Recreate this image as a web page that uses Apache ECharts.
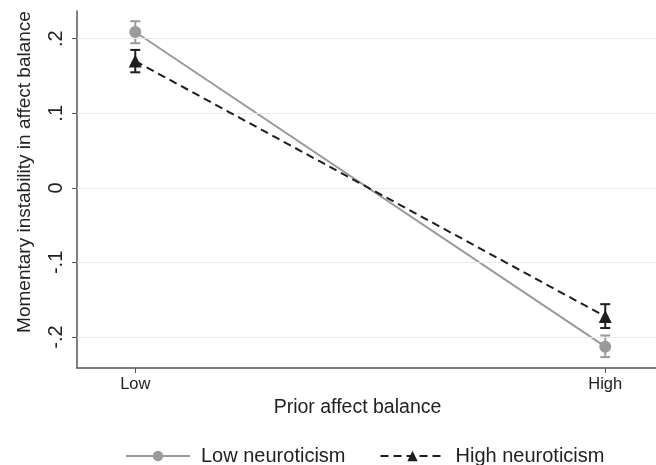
<!DOCTYPE html>
<html>
<head>
<meta charset="utf-8">
<script src="https://cdn.jsdelivr.net/npm/echarts@6/dist/echarts.min.js"></script>
<style>
  html, body { margin: 0; padding: 0; background: #fff; }
  #chart { width: 656px; height: 465px; }
</style>
</head>
<body>
<div id="chart"></div>
<script>
// levels of prior affect balance, placed at 0 and 1 on the x scale
var levels = ['Low', 'High']
var levelPos = [0, 1]
var yTicks = [-0.2, -0.1, 0, 0.1, 0.2]

// low neuroticism: estimate and 95% CI
var lowNeuro = [0.209, -0.213]
var lowNeuroLo = [0.194, -0.227]
var lowNeuroHi = [0.2235, -0.198]

// high neuroticism
var highNeuro = [0.170, -0.1725]
var highNeuroLo = [0.155, -0.188]
var highNeuroHi = [0.185, -0.156]

const FONT = 'Liberation Sans, Arial, sans-serif'
const GRAY = '#9a9a9a'
const BLACK = '#1e1e1e'

function pairs(ys) {
  var out = []
  for (var i in ys) {
    out.push([levelPos[i], ys[i]])
  }
  return out
}

function ciData(lo, hi) {
  var out = []
  for (var i in lo) {
    out.push([levelPos[i], lo[i], hi[i]])
  }
  return out
}

function errorBars(color) {
  return function (params, api) {
    var top = api.coord([api.value(0), api.value(2)])
    var bot = api.coord([api.value(0), api.value(1)])
    var cap = 5
    var style = { stroke: color, lineWidth: 2 }
    return {
      type: 'group',
      children: [
        { type: 'line', shape: { x1: top[0], y1: top[1], x2: bot[0], y2: bot[1] }, style: style },
        { type: 'line', shape: { x1: top[0] - cap, y1: top[1], x2: top[0] + cap, y2: top[1] }, style: style },
        { type: 'line', shape: { x1: bot[0] - cap, y1: bot[1], x2: bot[0] + cap, y2: bot[1] }, style: style }
      ]
    }
  }
}

function fmtY(v) {
  var r = Math.round(v * 10) / 10
  if (r === 0) return '0'
  var s = String(Math.abs(r)).replace(/^0/, '')
  return (r < 0 ? '-' : '') + s
}

var chart = echarts.init(document.getElementById('chart'))
var option = {
  animation: false,
  textStyle: { fontFamily: FONT },
  grid: { left: 77, right: 0, top: 11, bottom: 97 },
  legend: {
    data: ['Low neuroticism', 'High neuroticism'],
    left: 120,
    top: 441,
    itemWidth: 64,
    itemHeight: 13,
    itemGap: 34,
    textStyle: { fontSize: 20, color: '#222', fontFamily: FONT, padding: [0, 0, 0, 6] }
  },
  xAxis: {
    type: 'value',
    min: -0.124,
    max: 1.108,
    axisLine: { onZero: false, lineStyle: { color: '#555', width: 1.5 } },
    axisTick: { show: true, length: 5, lineStyle: { color: '#555' }, customValues: levelPos },
    axisLabel: {
      customValues: levelPos,
      fontSize: 16.5,
      color: '#222',
      margin: 8,
      formatter: function (v) { return levels[levelPos.indexOf(v)] }
    },
    splitLine: { show: false },
    name: 'Prior affect balance',
    nameLocation: 'middle',
    nameGap: 30,
    nameTextStyle: { fontSize: 19.5, color: '#222', padding: [0, 18, 0, 0] }
  },
  yAxis: {
    type: 'value',
    min: -0.2416,
    max: 0.2372,
    axisLine: { show: true, onZero: false, lineStyle: { color: '#555', width: 1.5 } },
    axisTick: { show: true, length: 5, lineStyle: { color: '#555' }, customValues: yTicks },
    axisLabel: {
      customValues: yTicks,
      rotate: 90,
      fontSize: 20,
      color: '#222',
      margin: 11,
      formatter: fmtY
    },
    splitLine: { show: false }
  },
  graphic: [{
    type: 'text',
    x: 25,
    y: 172,
    rotation: Math.PI / 2,
    style: {
      text: 'Momentary instability in affect balance',
      font: '19px ' + FONT,
      fill: '#222',
      textAlign: 'center',
      textVerticalAlign: 'middle'
    }
  }],
  series: [
    {
      // horizontal grid lines at the y ticks
      type: 'line',
      data: [],
      silent: true,
      markLine: {
        silent: true,
        symbol: 'none',
        label: { show: false },
        lineStyle: { color: '#eaeaea', width: 1.2, type: 'solid' },
        data: yTicks.map(function (t) { return { yAxis: t } })
      }
    },
    {
      type: 'custom',
      renderItem: errorBars(GRAY),
      data: ciData(lowNeuroLo, lowNeuroHi),
      z: 3
    },
    {
      type: 'custom',
      renderItem: errorBars(BLACK),
      data: ciData(highNeuroLo, highNeuroHi),
      z: 3
    },
    {
      name: 'Low neuroticism',
      type: 'line',
      data: pairs(lowNeuro),
      symbol: 'circle',
      symbolSize: 12,
      color: GRAY,
      itemStyle: { color: GRAY },
      lineStyle: { color: GRAY, width: 2 },
      z: 4
    },
    {
      name: 'High neuroticism',
      type: 'line',
      data: pairs(highNeuro),
      symbol: 'triangle',
      symbolSize: 13,
      color: BLACK,
      itemStyle: { color: BLACK },
      lineStyle: { color: BLACK, width: 2, type: [8, 5] },
      z: 5
    }
  ]
}
chart.setOption(option)
</script>
</body>
</html>
